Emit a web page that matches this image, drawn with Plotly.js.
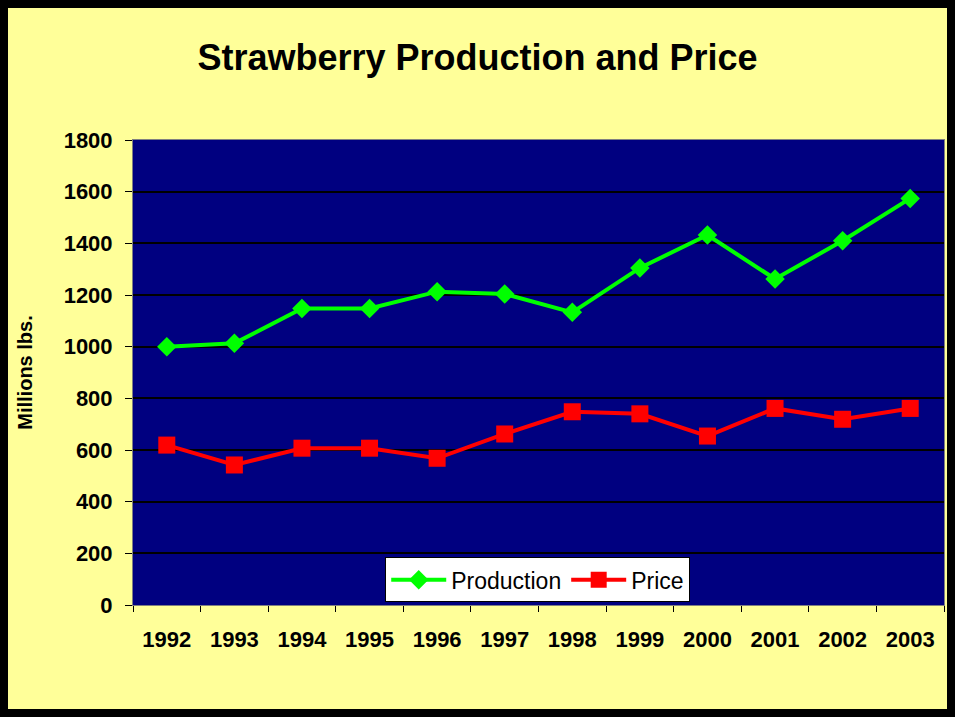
<!DOCTYPE html>
<html>
<head>
<meta charset="utf-8">
<script src="https://cdn.plot.ly/plotly-3.0.1.min.js"></script>
<style>
html, body { margin: 0; padding: 0; background: #000000; width: 955px; height: 717px; overflow: hidden; }
#chart { position: absolute; left: 8px; top: 8px; width: 939px; height: 701px; }
</style>
</head>
<body>
<div id="chart"></div>
<script>
const years = ["1992","1993","1994","1995","1996","1997","1998","1999","2000","2001","2002","2003"];
const production = [1000, 1013, 1148, 1148, 1213, 1204, 1133, 1305, 1432, 1262, 1410, 1574];
const price = [619, 542, 607, 607, 568, 662, 748, 740, 654, 761, 719, 761];
const yTicks = [0, 200, 400, 600, 800, 1000, 1200, 1400, 1600, 1800];

const traces = [
  {
    x: years, y: production, name: "Production", type: "scatter", mode: "lines+markers",
    line: { color: "#00FF00", width: 4 },
    marker: { symbol: "diamond", size: 15, color: "#00FF00", line: { width: 0 } }
  },
  {
    x: years, y: price, name: "Price", type: "scatter", mode: "lines+markers",
    line: { color: "#FF0000", width: 4 },
    marker: { symbol: "square", size: 17, color: "#FF0000", line: { width: 0 } }
  }
];

const layout = {
  width: 939, height: 701,
  paper_bgcolor: "#FFFF99",
  plot_bgcolor: "#000080",
  margin: { l: 125, r: 3, t: 132, b: 104 },
  font: { family: "Liberation Sans, Arial, sans-serif", color: "#000000" },
  title: {
    text: "<b>Strawberry Production and Price</b>",
    font: { size: 36, family: "Liberation Sans, Arial, sans-serif", color: "#000000" },
    x: 0.5, xanchor: "center", y: 0.93, yref: "container", yanchor: "middle"
  },
  xaxis: {
    type: "category",
    range: [-0.5, 11.5],
    tickson: "boundaries",
    ticks: "outside", ticklen: 6, tickcolor: "#000000",
    showgrid: false,
    showline: true, linecolor: "#808080", linewidth: 1, mirror: true,
    tickfont: { size: 22, family: "Liberation Sans, Arial, sans-serif", weight: "bold", color: "#000000" },
    ticklabelstandoff: 15,
    zeroline: false
  },
  yaxis: {
    range: [0, 1800],
    tickvals: yTicks,
    ticktext: yTicks.map(String),
    ticks: "outside", ticklen: 7, tickcolor: "#000000",
    showgrid: true, gridcolor: "#000000", gridwidth: 2,
    showline: true, linecolor: "#808080", linewidth: 1, mirror: true,
    zeroline: false,
    tickfont: { size: 22, family: "Liberation Sans, Arial, sans-serif", weight: "bold", color: "#000000" },
    ticklabelstandoff: 8,
    title: {
      text: "<b>Millions lbs.</b>",
      font: { size: 20, family: "Liberation Sans, Arial, sans-serif", color: "#000000" },
      standoff: 25
    }
  },
  showlegend: true,
  legend: {
    orientation: "h",
    x: 0.311, xanchor: "left",
    y: 0.006, yanchor: "bottom",
    bgcolor: "#FFFFFF", bordercolor: "#000000", borderwidth: 1,
    font: { size: 23, family: "Liberation Sans, Arial, sans-serif", color: "#000000" },
    itemwidth: 55,
    tracegroupgap: 0
  }
};

Plotly.newPlot("chart", traces, layout, { displayModeBar: false, staticPlot: true });
</script>
</body>
</html>
